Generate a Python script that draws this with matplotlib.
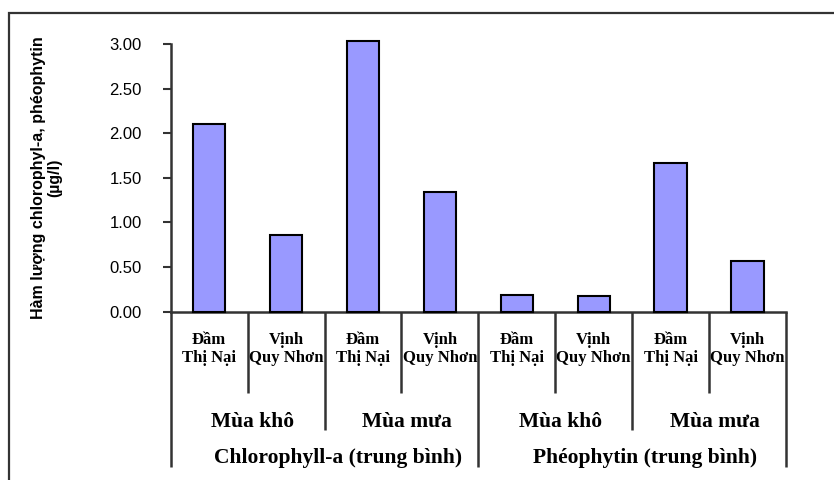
import matplotlib
matplotlib.use("Agg")
import matplotlib.pyplot as plt
from matplotlib.patches import Rectangle
import numpy as np

# Data
stations = ["Đầm\nThị Nại", "Vịnh\nQuy Nhơn"] * 4
seasons = ["Mùa khô", "Mùa mưa", "Mùa khô", "Mùa mưa"]
pigments = ["Chlorophyll-a (trung bình)", "Phéophytin (trung bình)"]
values = [2.10, 0.86, 3.03, 1.34, 0.19, 0.18, 1.67, 0.57]
yticks = [0.0, 0.5, 1.0, 1.5, 2.0, 2.5, 3.0]

W, H = 834, 480
fig = plt.figure(figsize=(W / 100, H / 100), dpi=100)

# Axes placement (pixel based)
ax_l, ax_r, ax_b, ax_t = 170.7, 786.0, 311.7, 44.0
ax = fig.add_axes([ax_l / W, 1 - ax_b / H, (ax_r - ax_l) / W, (ax_b - ax_t) / H])

x = np.arange(len(values))
ax.bar(x, values, width=0.42, color="#9999FF", edgecolor="black",
       linewidth=1.5, clip_on=False, zorder=3)

ax.set_xlim(-0.5, len(values) - 0.5)
ax.set_ylim(0, 3.0)
ax.set_yticks(yticks)
ax.set_yticklabels([f"{v:.2f}" for v in yticks], family="Liberation Sans",
                   fontsize=12)
ax.tick_params(axis="y", direction="out", length=6, width=1.5,
               color="#333333", pad=15)
ax.set_xticks([])

for s in ["top", "right"]:
    ax.spines[s].set_visible(False)
for s in ["left", "bottom"]:
    ax.spines[s].set_color("#333333")
    ax.spines[s].set_linewidth(1.8)

# Multi-level category axis separators
px = 1.0 / (ax_b - ax_t)  # axes fraction per pixel
lvl1_y = -(393 - ax_b) * px
lvl2_y = -(430 - ax_b) * px
lvl3_y = -(467 - ax_b) * px
tr = ax.get_xaxis_transform()
n = len(values)
for b in np.arange(-0.5, n, 1.0):
    k = int(b + 0.5)
    if k % 4 == 0:
        yend = lvl3_y
    elif k % 2 == 0:
        yend = lvl2_y
    else:
        yend = lvl1_y
    ax.plot([b, b], [0, yend], transform=tr, color="#333333", lw=1.8,
            clip_on=False, solid_capstyle="butt")

serif = "Liberation Serif"
for i, lab in enumerate(stations):
    ax.text(i, -(349 - ax_b) * px, lab, transform=tr, ha="center",
            va="center", family=serif, weight="bold", fontsize=12,
            multialignment="center", linespacing=1.15)

for j, lab in enumerate(seasons):
    ax.text(2 * j + 0.5 + 0.07, -(422 - ax_b) * px, lab, transform=tr,
            ha="center", va="center", family=serif, weight="bold",
            fontsize=15.5)

for j, lab in enumerate(pigments):
    ax.text(4 * j + 1.5 + 0.17, -(458 - ax_b) * px, lab, transform=tr,
            ha="center", va="center", family=serif, weight="bold",
            fontsize=15.5)

# Y axis title
fig.text(46.5 / W, 1 - 177.8 / H,
         "Hàm lượng chlorophyl-a, phéophytin\n(µg/l)",
         rotation=90, ha="center", va="center", multialignment="center",
         family="Liberation Sans", weight="bold", fontsize=11.5,
         linespacing=1.05)

# Chart area border
fig.add_artist(Rectangle((9 / W, -0.1), 1.2, 1.1 - 13 / H,
                         transform=fig.transFigure, fill=False,
                         edgecolor="#333333", linewidth=1.6))

fig.savefig("out.png", dpi=100)
